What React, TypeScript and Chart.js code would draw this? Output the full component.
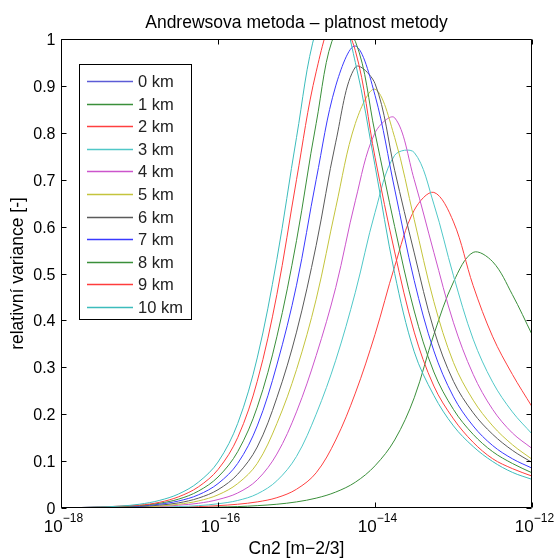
import React, { useEffect, useRef } from "react";
import { Chart, registerables } from "chart.js";

Chart.register(...registerables);

// Cn2 sample positions [m^-2/3] (quarter-decade grid)
const CN2 = [
  1e-18, 1.78e-18, 3.16e-18, 5.62e-18,
  1e-17, 1.78e-17, 3.16e-17, 5.62e-17,
  1e-16, 1.78e-16, 3.16e-16, 5.62e-16,
  1e-15, 1.78e-15, 3.16e-15, 5.62e-15,
  1e-14, 1.78e-14, 3.16e-14, 5.62e-14,
  1e-13, 1.78e-13, 3.16e-13, 5.62e-13,
  1e-12,
];

// relative variance for each altitude
const KM0: number[] = [];
const KM1 = [0, 0, 0, 0, 0, 0.001, 0.001, 0.001, 0.002, 0.003, 0.005, 0.008, 0.013, 0.021, 0.034, 0.055, 0.09, 0.145, 0.235, 0.37, 0.482, 0.545, 0.525, 0.455, 0.37];
const KM2 = [0, 0, 0, 0, 0.001, 0.001, 0.002, 0.003, 0.005, 0.008, 0.013, 0.022, 0.04, 0.075, 0.145, 0.245, 0.37, 0.515, 0.635, 0.673, 0.61, 0.474, 0.365, 0.285, 0.216];
const KM3 = [0, 0, 0, 0.001, 0.001, 0.002, 0.003, 0.005, 0.009, 0.016, 0.03, 0.058, 0.11, 0.2, 0.315, 0.46, 0.63, 0.752, 0.758, 0.648, 0.495, 0.36, 0.268, 0.205, 0.158];
const KM4 = [0, 0, 0.001, 0.001, 0.002, 0.003, 0.006, 0.01, 0.018, 0.032, 0.06, 0.115, 0.205, 0.325, 0.47, 0.655, 0.8, 0.832, 0.7, 0.545, 0.395, 0.285, 0.21, 0.16, 0.127];
const KM5 = [0, 0, 0.001, 0.001, 0.002, 0.004, 0.008, 0.015, 0.028, 0.052, 0.095, 0.18, 0.295, 0.445, 0.64, 0.82, 0.893, 0.79, 0.615, 0.44, 0.31, 0.23, 0.175, 0.135, 0.104];
const KM6 = [0, 0, 0.001, 0.002, 0.003, 0.006, 0.011, 0.021, 0.039, 0.072, 0.13, 0.235, 0.375, 0.56, 0.78, 0.94, 0.905, 0.72, 0.544, 0.38, 0.27, 0.203, 0.157, 0.123, 0.097];
const KM7 = [0, 0.001, 0.002, 0.003, 0.004, 0.008, 0.015, 0.028, 0.052, 0.095, 0.175, 0.305, 0.475, 0.7, 0.9, 0.985, 0.88, 0.68, 0.485, 0.335, 0.237, 0.175, 0.133, 0.105, 0.085];
const KM8 = [0, 0.001, 0.002, 0.003, 0.005, 0.01, 0.019, 0.036, 0.066, 0.12, 0.215, 0.365, 0.57, 0.82, 1.015, 0.995, 0.8, 0.6, 0.42, 0.29, 0.21, 0.157, 0.12, 0.095, 0.075];
const KM9 = [0, 0.001, 0.002, 0.004, 0.006, 0.012, 0.024, 0.045, 0.082, 0.15, 0.27, 0.455, 0.7, 0.93, 1.05, 0.975, 0.748, 0.546, 0.375, 0.26, 0.19, 0.14, 0.105, 0.084, 0.068];
const KM10 = [0, 0.001, 0.002, 0.004, 0.008, 0.016, 0.03, 0.055, 0.098, 0.18, 0.32, 0.53, 0.79, 1.02, 1.085, 0.95, 0.73, 0.5, 0.333, 0.24, 0.175, 0.131, 0.099, 0.076, 0.061];

const SERIES = [KM0, KM1, KM2, KM3, KM4, KM5, KM6, KM7, KM8, KM9, KM10];
const SERIES_LABELS = ["0 km", "1 km", "2 km", "3 km", "4 km", "5 km", "6 km", "7 km", "8 km", "9 km", "10 km"];
const SERIES_COLORS = [
  "#5c5cd6", "#3a8f3a", "#ff4040", "#50c8c8", "#cc55cc", "#c4c43c",
  "#5a5a5a", "#3a3aff", "#3a8f3a", "#ff3c3c", "#3cbcbc",
];

const Y_TICKS = [0, 0.1, 0.2, 0.3, 0.4, 0.5, 0.6, 0.7, 0.8, 0.9, 1];
const Y_TICK_LABELS = ["0", "0.1", "0.2", "0.3", "0.4", "0.5", "0.6", "0.7", "0.8", "0.9", "1"];
const X_TICKS = [1e-18, 1e-16, 1e-14, 1e-12];
const X_TICK_EXPONENTS = ["\u221218", "\u221216", "\u221214", "\u221212"];

const TITLE = "Andrewsova metoda \u2013 platnost metody";
const X_TITLE = "Cn2 [m\u22122/3]";
const Y_TITLE = "relativn\u00ed variance [-]";

const FONT = '"Liberation Sans", Arial, Helvetica, sans-serif';

const W = 554;
const H = 559;

const framePlugin = {
  id: "matlabFrame",
  afterDraw(chart: any) {
    const ctx = chart.ctx as CanvasRenderingContext2D;
    const { left, right, top, bottom } = chart.chartArea;
    const xs = chart.scales.x;
    const ys = chart.scales.y;
    ctx.save();

    // box
    ctx.strokeStyle = "#000";
    ctx.lineWidth = 1;
    ctx.beginPath();
    ctx.rect(Math.round(left) + 0.5, Math.round(top) + 0.5, Math.round(right - left) - 1, Math.round(bottom - top) - 1);
    ctx.stroke();

    const L = Math.round(left) + 0.5;
    const R = Math.round(right) - 0.5;
    const T = Math.round(top) + 0.5;
    const B = Math.round(bottom) - 0.5;

    // y ticks + labels
    ctx.fillStyle = "#000";
    ctx.font = `16px ${FONT}`;
    ctx.textAlign = "right";
    ctx.textBaseline = "middle";
    Y_TICKS.forEach((v, i) => {
      const py = Math.round(ys.getPixelForValue(v)) + 0.5;
      ctx.beginPath();
      ctx.moveTo(L, py);
      ctx.lineTo(L + 5, py);
      ctx.moveTo(R, py);
      ctx.lineTo(R - 5, py);
      ctx.stroke();
      ctx.fillText(Y_TICK_LABELS[i], L - 6, py + 1);
    });

    // x ticks + labels
    X_TICKS.forEach((v, i) => {
      const px = Math.round(xs.getPixelForValue(v)) + 0.5;
      ctx.beginPath();
      ctx.moveTo(px, B);
      ctx.lineTo(px, B - 5);
      ctx.moveTo(px, T);
      ctx.lineTo(px, T + 5);
      ctx.stroke();
      ctx.font = `17px ${FONT}`;
      const baseW = ctx.measureText("10").width;
      ctx.font = `12px ${FONT}`;
      const supW = ctx.measureText(X_TICK_EXPONENTS[i]).width;
      const total = baseW + supW;
      const x0 = px - total / 2 + 2;
      ctx.textAlign = "left";
      ctx.textBaseline = "alphabetic";
      ctx.font = `17px ${FONT}`;
      ctx.fillText("10", x0, bottom + 24);
      ctx.font = `12px ${FONT}`;
      ctx.fillText(X_TICK_EXPONENTS[i], x0 + baseW, bottom + 14);
    });

    // title
    ctx.font = `17.5px ${FONT}`;
    ctx.textAlign = "center";
    ctx.textBaseline = "alphabetic";
    ctx.fillText(TITLE, (left + right) / 2, 28);

    // x title
    ctx.fillText(X_TITLE, (left + right) / 2, 554);

    // y title
    ctx.save();
    ctx.translate(23, (top + bottom) / 2);
    ctx.rotate(-Math.PI / 2);
    ctx.fillText(Y_TITLE, 0, 0);
    ctx.restore();

    // legend
    const lx = 79.5, ly = 64.5, lw = 112, lh = 255;
    ctx.fillStyle = "#fff";
    ctx.fillRect(lx, ly, lw, lh);
    ctx.strokeStyle = "#000";
    ctx.strokeRect(lx, ly, lw, lh);
    ctx.textAlign = "left";
    ctx.textBaseline = "middle";
    ctx.font = `16.5px ${FONT}`;
    chart.data.datasets.forEach((ds: any, i: number) => {
      const ry = Math.round(81 + i * 22.6) + 0.5;
      ctx.strokeStyle = ds.borderColor;
      ctx.lineWidth = 1.5;
      ctx.beginPath();
      ctx.moveTo(87, ry);
      ctx.lineTo(133, ry);
      ctx.stroke();
      ctx.fillStyle = "#222";
      ctx.fillText(ds.label, 138, ry + 1);
    });

    ctx.restore();
  },
};

export default function App() {
  const ref = useRef<HTMLCanvasElement | null>(null);

  useEffect(() => {
    document.body.style.margin = "0";
    const canvas = ref.current;
    if (!canvas) return;
    const datasets = SERIES.map((vals, i) => ({
      label: SERIES_LABELS[i],
      data: vals.map((y, j) => ({ x: CN2[j], y })),
      borderColor: SERIES_COLORS[i],
      backgroundColor: SERIES_COLORS[i],
      borderWidth: 1,
      pointRadius: 0,
      tension: 0.35,
      fill: false,
      order: SERIES.length - i,
    }));
    const chart = new Chart(canvas, {
      type: "line",
      data: { datasets },
      options: {
        animation: false,
        responsive: false,
        devicePixelRatio: 1,
        layout: { padding: { left: 0, top: 39, right: 22, bottom: 0 } },
        plugins: {
          legend: { display: false },
          title: { display: false },
          tooltip: { enabled: false },
        },
        scales: {
          x: {
            type: "logarithmic",
            min: 1e-18,
            max: 1e-12,
            ticks: { display: false },
            grid: { display: false },
            border: { display: false },
            afterFit: (s: any) => { s.height = 51; },
          },
          y: {
            type: "linear",
            min: 0,
            max: 1,
            ticks: { display: false },
            grid: { display: false },
            border: { display: false },
            afterFit: (s: any) => { s.width = 61; },
          },
        },
      },
      plugins: [framePlugin],
    });
    return () => chart.destroy();
  }, []);

  return (
    <div style={{ position: "absolute", left: 0, top: 0, width: W, height: H, background: "#fff" }}>
      <canvas ref={ref} width={W} height={H} style={{ width: W, height: H, display: "block" }} />
    </div>
  );
}
